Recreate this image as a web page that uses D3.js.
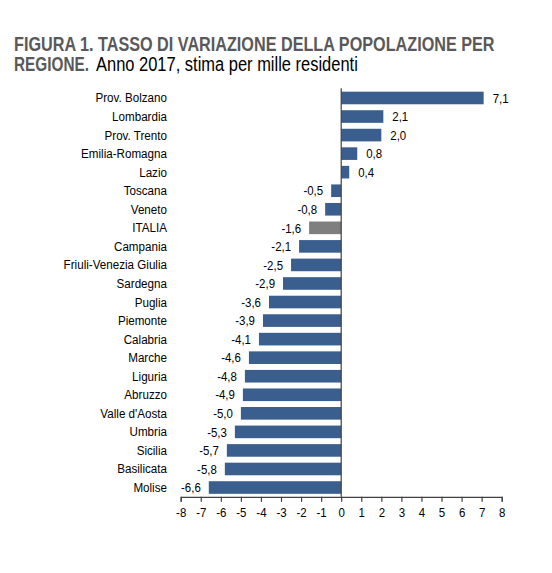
<!DOCTYPE html>
<html>
<head>
<meta charset="utf-8">
<script src="https://cdn.jsdelivr.net/npm/d3@7"></script>
<style>
  html, body { margin: 0; padding: 0; background: #fff; }
  svg { display: block; }
  text { font-family: "Liberation Sans", Arial, sans-serif; }
</style>
</head>
<body>
<svg class="vis" width="552" height="573"></svg>
<script>
// regions, top to bottom
const regioni = ["Prov. Bolzano", "Lombardia", "Prov. Trento", "Emilia-Romagna", "Lazio",
  "Toscana", "Veneto", "ITALIA", "Campania", "Friuli-Venezia Giulia", "Sardegna",
  "Puglia", "Piemonte", "Calabria", "Marche", "Liguria", "Abruzzo", "Valle d'Aosta",
  "Umbria", "Sicilia", "Basilicata", "Molise"];

// tasso di variazione per mille residenti, 2017
const tassi = [7.1, 2.1, 2.0, 0.8, 0.4, -0.5, -0.8, -1.6, -2.1, -2.5, -2.9,
  -3.6, -3.9, -4.1, -4.6, -4.8, -4.9, -5.0, -5.3, -5.7, -5.8, -6.6];

const xTicks = [-8, -7, -6, -5, -4, -3, -2, -1, 0, 1, 2, 3, 4, 5, 6, 7, 8];

const vis = {

  dims: { left: 180.7, right: 501.7, top: 88.7, axisY: 496.8 },

  colors: { bar: "#3a5f8e", italia: "#7f7f7f", text: "#000", title: "#595959", axis: "#404040" },

  // squeeze text horizontally, the original uses a narrow face
  narrow: function(sel, k) {
    sel.each(function() {
      const w = this.getComputedTextLength();
      d3.select(this).attr("textLength", w * k).attr("lengthAdjust", "spacingAndGlyphs");
    });
  },

  // title pieces: scale a text so it spans the given width from x0
  fit: function(g, x0, y0, w) {
    const t = g.select("text");
    const nat = t.node().getComputedTextLength();
    g.attr("transform", `translate(${x0},${y0}) scale(${w / nat},1)`);
  },

  draw: function() {

    const svg = d3.select("svg.vis");
    const d = vis.dims;

    const data = regioni.map((r, i) => ({ regione: r, valore: tassi[i] }));

    const x = d3.scaleLinear().domain([-8, 8]).range([d.left, d.right]);
    const y = d3.scaleBand().domain(regioni).range([d.top, d.axisY])
      .paddingInner(0.32).paddingOuter(0.16);

    // title
    const t1 = svg.append("g");
    t1.append("text").attr("font-size", 20).attr("font-weight", "bold")
      .attr("fill", vis.colors.title)
      .text("FIGURA 1. TASSO DI VARIAZIONE DELLA POPOLAZIONE PER");
    vis.fit(t1, 14, 50.7, 481);

    const t2 = svg.append("g");
    t2.append("text").attr("font-size", 20).attr("font-weight", "bold")
      .attr("fill", vis.colors.title).text("REGIONE.");
    vis.fit(t2, 14, 71.3, 75);

    const t3 = svg.append("g");
    t3.append("text").attr("font-size", 20).attr("fill", "#000")
      .text("Anno 2017, stima per mille residenti");
    vis.fit(t3, 96, 71.3, 262);

    // bars
    svg.append("g").selectAll("rect")
      .data(data)
      .join("rect")
      .attr("x", v => x(Math.min(0, v.valore)))
      .attr("y", v => y(v.regione))
      .attr("width", v => Math.abs(x(v.valore) - x(0)))
      .attr("height", y.bandwidth())
      .attr("fill", v => v.regione === "ITALIA" ? vis.colors.italia : vis.colors.bar);

    // value labels
    const fmt = v => d3.format(".1f")(v).replace("−", "-").replace(".", ",");
    svg.append("g").selectAll("text")
      .data(data)
      .join("text")
      .attr("x", v => v.valore >= 0 ? x(v.valore) + 9 : x(v.valore) - 8)
      .attr("y", v => y(v.regione) + y.bandwidth() / 2)
      .attr("dy", "0.36em")
      .attr("text-anchor", v => v.valore >= 0 ? "start" : "end")
      .attr("font-size", 13)
      .attr("fill", vis.colors.text)
      .text(v => fmt(v.valore))
      .call(vis.narrow, 0.88);

    // category labels
    svg.append("g").selectAll("text")
      .data(data)
      .join("text")
      .attr("x", 167)
      .attr("y", v => y(v.regione) + y.bandwidth() / 2)
      .attr("dy", "0.36em")
      .attr("text-anchor", "end")
      .attr("font-size", 12.5)
      .attr("fill", vis.colors.text)
      .text(v => v.regione)
      .call(vis.narrow, 0.93);

    // zero line
    svg.append("line")
      .attr("x1", x(0)).attr("x2", x(0))
      .attr("y1", d.top - 0.5).attr("y2", d.axisY)
      .attr("stroke", vis.colors.axis).attr("stroke-width", 1.2);

    // x axis
    const axis = d3.axisBottom(x).tickValues(xTicks).tickSize(5).tickPadding(6)
      .tickFormat(d3.format("d"));
    const gx = svg.append("g").attr("transform", `translate(0,${d.axisY})`).call(axis);
    gx.select(".domain").attr("stroke", vis.colors.axis).attr("stroke-width", 1.2);
    gx.selectAll(".tick line").attr("stroke", vis.colors.axis).attr("stroke-width", 1.2);
    gx.selectAll(".tick text")
      .attr("font-family", null)
      .attr("font-size", 13.5)
      .attr("fill", "#000")
      .text(v => String(v).replace("−", "-"))
      .call(vis.narrow, 0.85);
  }
};

vis.draw();
</script>
</body>
</html>
